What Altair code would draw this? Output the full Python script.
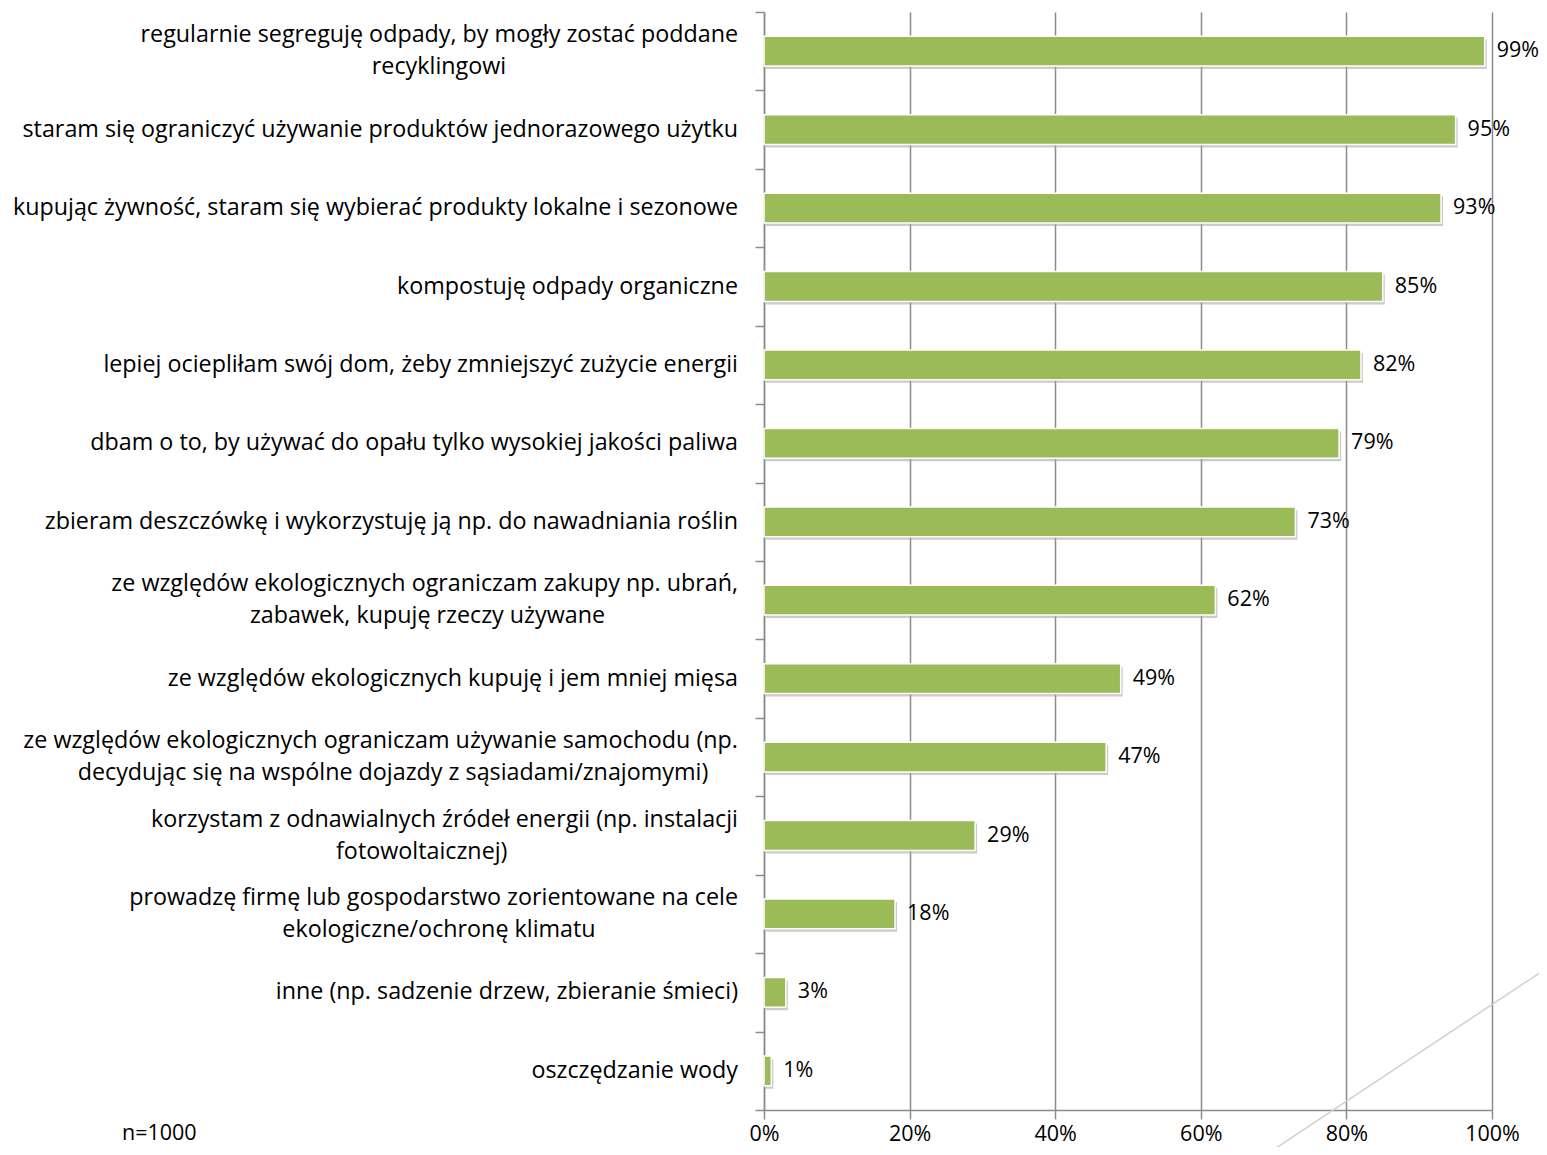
import altair as alt
import pandas as pd

line1 = [
    "regularnie segreguję odpady, by mogły zostać poddane",
    "staram się ograniczyć używanie produktów jednorazowego użytku",
    "kupując żywność, staram się wybierać produkty lokalne i sezonowe",
    "kompostuję odpady organiczne",
    "lepiej ociepliłam swój dom, żeby zmniejszyć zużycie energii",
    "dbam o to, by używać do opału tylko wysokiej jakości paliwa",
    "zbieram deszczówkę i wykorzystuję ją np. do nawadniania roślin",
    "ze względów ekologicznych ograniczam zakupy np. ubrań,",
    "ze względów ekologicznych kupuję i jem mniej mięsa",
    "ze względów ekologicznych ograniczam używanie samochodu (np.",
    "korzystam z odnawialnych źródeł energii (np. instalacji",
    "prowadzę firmę lub gospodarstwo zorientowane na cele",
    "inne (np. sadzenie drzew, zbieranie śmieci)",
    "oszczędzanie wody",
]
line2 = [
    "recyklingowi",
    "",
    "",
    "",
    "",
    "",
    "",
    "zabawek, kupuję rzeczy używane",
    "",
    "decydując się na wspólne dojazdy z sąsiadami/znajomymi)",
    "fotowoltaicznej)",
    "ekologiczne/ochronę klimatu",
    "",
    "",
]
values = [99, 95, 93, 85, 82, 79, 73, 62, 49, 47, 29, 18, 3, 1]
x_ticks = [0, 20, 40, 60, 80, 100]
note = "n=1000"

df = pd.DataFrame({"l1": line1, "l2": line2, "v": values})
order = line1

W, H = 728, 1098
FONT = "Open Sans"
FS = 23.3
VFS = 21.5
CHAR_W = 11.5
GAP = 26
GREEN = "#9BBB59"
GRID = "#8c8c8c"

x_scale = alt.Scale(domain=[0, 100], nice=False, zero=True)
y_scale = alt.Scale(paddingInner=0, paddingOuter=0)

y_axis = alt.Axis(title=None, labels=False, tickBand="extent", ticks=True,
                  tickSize=9, tickColor=GRID, tickWidth=1.5,
                  domainColor=GRID, domainWidth=1.5, grid=False)
x_axis = alt.Axis(title=None, values=x_ticks, labelExpr="datum.value + '%'",
                  grid=True, gridColor=GRID, gridWidth=1.5,
                  tickSize=9, tickColor=GRID, tickWidth=1.5,
                  domainColor=GRID, domainWidth=1.5, labelFlush=False,
                  labelFont=FONT, labelFontSize=VFS, labelColor="#000000",
                  labelPadding=4)

base = alt.Chart(df)
y_enc = alt.Y("l1:N", sort=order, scale=y_scale, axis=y_axis)
bar_h = alt.RelativeBandSize(band=0.38)

shadow = base.mark_bar(color="#a8a8a8", opacity=0.6, xOffset=2, yOffset=3,
                       height=bar_h).encode(
    x=alt.X("v:Q", scale=x_scale, axis=x_axis), y=y_enc)
bars = base.mark_bar(color=GREEN, stroke="white", strokeWidth=1.5,
                     height=bar_h).encode(
    x=alt.X("v:Q", scale=x_scale, axis=x_axis), y=y_enc)

vals = base.transform_calculate(lab="datum.v + '%'").mark_text(
    align="left", baseline="middle", dx=12, font=FONT, fontSize=VFS, color="#000000"
).encode(x=alt.X("v:Q", scale=x_scale, axis=x_axis), y=y_enc, text="lab:N")

single = base.transform_filter("datum.l2 == ''").mark_text(
    align="right", baseline="middle", font=FONT, fontSize=FS, color="#000000"
).encode(x=alt.value(-GAP), y=y_enc, text="l1:N")

multi1 = base.transform_filter("datum.l2 != ''").mark_text(
    align="right", baseline="middle", dy=-16, font=FONT, fontSize=FS, color="#000000"
).encode(x=alt.value(-GAP), y=y_enc, text="l1:N")

multi2 = base.transform_filter("datum.l2 != ''").transform_calculate(
    xc=f"(-{GAP} - length(datum.l1) * {CHAR_W} / 2) / {W} * 100"
).mark_text(
    align="center", baseline="middle", dy=16, font=FONT, fontSize=FS, color="#000000"
).encode(x=alt.X("xc:Q", scale=x_scale, axis=x_axis), y=y_enc, text="l2:N")

note_layer = alt.Chart(pd.DataFrame({"t": [note]})).mark_text(
    align="left", baseline="middle", font=FONT, fontSize=VFS, color="#000000"
).encode(x=alt.value(-642), y=alt.value(1122), text="t:N")

diag = alt.Chart(pd.DataFrame({"a": [0]})).mark_rule(color="#d0d0d0", strokeWidth=1.5).encode(
    x=alt.value(503), y=alt.value(1142), x2=alt.value(783), y2=alt.value(956))

chart = alt.layer(shadow, bars, vals, single, multi1, multi2, note_layer, diag).properties(
    width=W, height=H,
    autosize=alt.AutoSizeParams(type="none"),
    padding={"left": 756, "top": 4, "right": 47, "bottom": 37},
    background="white",
).configure_view(stroke=None)

chart.save("out.html", embed_options={"renderer": "svg", "actions": False})
